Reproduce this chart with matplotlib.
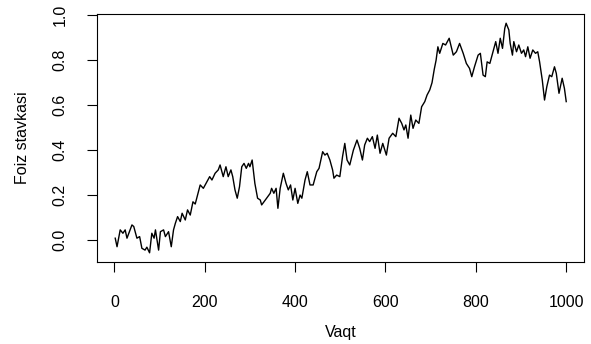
import matplotlib
matplotlib.use("Agg")
import matplotlib.pyplot as plt

plt.rcParams['font.family'] = ['Liberation Sans', 'DejaVu Sans']

# Time index (Vaqt) and rate values (Foiz stavkasi)
time = [2, 6, 13, 19, 24, 28, 39, 43, 50, 56, 61, 68, 72, 78, 83, 88, 91, 98,
        102, 109, 113, 120, 126, 131, 135, 140, 146, 150, 157, 162, 168, 174,
        179, 186, 190, 197, 205, 211, 216, 223, 230, 234, 241, 247, 252, 258,
        262, 267, 272, 277, 282, 287, 292, 297, 300, 305, 311, 317, 323, 326,
        331, 337, 345, 348, 353, 358, 362, 367, 374, 380, 385, 390, 395, 400,
        406, 411, 415, 422, 427, 433, 440, 448, 453, 461, 466, 471, 477, 483,
        486, 492, 499, 505, 510, 515, 521, 529, 537, 543, 549, 554, 560, 565,
        571, 577, 582, 588, 594, 602, 608, 616, 623, 630, 636, 641, 645, 650,
        656, 661, 667, 674, 680, 687, 692, 698, 703, 708, 712, 716, 720, 727,
        733, 741, 750, 757, 764, 772, 779, 786, 791, 797, 805, 810, 816, 821,
        825, 831, 838, 844, 849, 854, 859, 864, 867, 873, 876, 881, 884, 890,
        895, 901, 906, 910, 915, 920, 926, 932, 937, 941, 947, 952, 957, 963,
        968, 974, 978, 984, 991, 996, 1000]
rate = [0.008, -0.03, 0.045, 0.03, 0.045, 0.008, 0.067, 0.06, 0.008, 0.015,
        -0.037, -0.045, -0.032, -0.057, 0.03, 0.008, 0.045, -0.045, 0.037,
        0.045, 0.015, 0.037, -0.03, 0.045, 0.074, 0.104, 0.082, 0.119, 0.089,
        0.134, 0.111, 0.17, 0.16, 0.215, 0.245, 0.23, 0.26, 0.282, 0.267,
        0.297, 0.312, 0.334, 0.282, 0.326, 0.282, 0.312, 0.282, 0.223, 0.186,
        0.237, 0.326, 0.341, 0.319, 0.341, 0.326, 0.356, 0.252, 0.186, 0.178,
        0.156, 0.17, 0.186, 0.208, 0.23, 0.208, 0.23, 0.141, 0.23, 0.297,
        0.252, 0.223, 0.245, 0.178, 0.23, 0.163, 0.2, 0.186, 0.267, 0.304,
        0.245, 0.245, 0.304, 0.319, 0.393, 0.378, 0.386, 0.356, 0.312, 0.275,
        0.289, 0.282, 0.371, 0.43, 0.356, 0.334, 0.4, 0.445, 0.408, 0.356,
        0.423, 0.453, 0.438, 0.46, 0.408, 0.467, 0.386, 0.43, 0.378, 0.453,
        0.475, 0.46, 0.542, 0.519, 0.49, 0.512, 0.453, 0.556, 0.497, 0.534,
        0.519, 0.593, 0.616, 0.645, 0.668, 0.70, 0.76, 0.80, 0.86, 0.831,
        0.875, 0.868, 0.898, 0.823, 0.838, 0.875, 0.831, 0.786, 0.764, 0.727,
        0.771, 0.823, 0.831, 0.734, 0.727, 0.793, 0.786, 0.838, 0.883, 0.831,
        0.898, 0.853, 0.942, 0.965, 0.935, 0.875, 0.823, 0.883, 0.838, 0.868,
        0.831, 0.846, 0.816, 0.86, 0.809, 0.846, 0.831, 0.838, 0.794, 0.712,
        0.623, 0.682, 0.734, 0.727, 0.771, 0.742, 0.653, 0.72, 0.675, 0.616]

xticks = [0, 200, 400, 600, 800, 1000]
yticks = [0.0, 0.2, 0.4, 0.6, 0.8, 1.0]
xtick_labels = ["0", "200", "400", "600", "800", "1000"]
ytick_labels = ["0.0", "0.2", "0.4", "0.6", "0.8", "1.0"]

W, H = 591, 344
fig = plt.figure(figsize=(W / 100, H / 100), dpi=100)
left, right, top, bottom = 96.7, 584.3, 14, 262
ax = fig.add_axes([left / W, 1 - bottom / H, (right - left) / W, (bottom - top) / H])

ax.plot(time, rate, color="black", lw=1.0)
ax.set_xlim(-39, 1040)
ax.set_ylim(-0.098, 1.006)

ax.set_xticks(xticks)
ax.set_xticklabels(xtick_labels)
ax.set_yticks(yticks)
ax.set_yticklabels(ytick_labels, rotation=90, va="center")

ax.tick_params(axis="both", direction="out", length=7.3, width=0.8,
               labelsize=11.5, colors="black")
ax.tick_params(axis="x", pad=16.2)
ax.tick_params(axis="y", pad=13.8)

for s in ax.spines.values():
    s.set_linewidth(0.8)
    s.set_color("black")

fig.text(22.7 / W, 1 - 138 / H, "Foiz stavkasi", rotation=90, ha="center",
         va="center", fontsize=11.5)
fig.text((left + right) / 2 / W, 1 - 332 / H, "Vaqt", ha="center", va="center",
         fontsize=11.5)

fig.savefig("out.png", dpi=100)
